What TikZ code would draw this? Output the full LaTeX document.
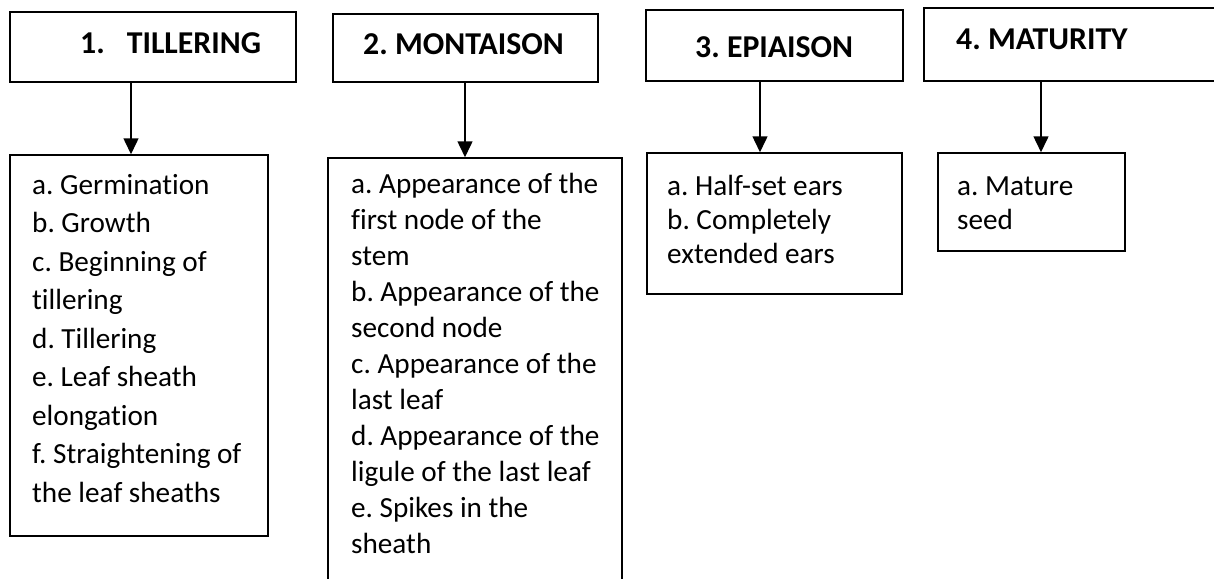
\documentclass[tikz,border=0pt]{standalone}
\usepackage{fontspec}
\setmainfont{Carlito}[Ligatures={NoCommon}]
\usetikzlibrary{arrows.meta}
\begin{document}
\frenchspacing
\begin{tikzpicture}[x=1pt,y=-1pt,
  box/.style={draw, line width=1.5pt, inner sep=0pt, rectangle},
  title/.style={font=\bfseries\fontsize{31.8}{38}\selectfont, anchor=base west, inner sep=0pt},
  body/.style={font=\fontsize{29.2}{#1}\selectfont, anchor=base west, inner sep=0pt, align=left},
  arr/.style={-{Triangle[length=16pt,width=15pt]}, line width=1.5pt}]
\useasboundingbox (0,0) rectangle (1214,578);
% top boxes
\node[box, minimum width=286pt, minimum height=70pt] (t1) at (153,47) {};
\node[box, minimum width=265pt, minimum height=68pt] (t2) at (465.5,48) {};
\node[box, minimum width=257pt, minimum height=71pt] (t3) at (774.5,45.5) {};
\node[box, minimum width=292pt, minimum height=73pt] (t4) at (1070,44.5) {};
% bottom boxes
\node[box, minimum width=258pt, minimum height=381pt] (b1) at (139,345.5) {};
\node[box, minimum width=294pt, minimum height=424pt] (b2) at (475,370) {};
\node[box, minimum width=255pt, minimum height=141pt] (b3) at (774.5,223.5) {};
\node[box, minimum width=187pt, minimum height=98pt] (b4) at (1031.5,202) {};
% titles
\node[title] (h1) at (80,54) {1.\hspace{22pt}TILLERING};
\node[title] (h2) at (363,55) {2. MONTAISON};
\node[title] (h3) at (695,57) {3. EPIAISON};
\node[title] (h4) at (956,50) {4. MATURITY};
% body texts (base anchor = baseline of the last line)
\node[body=38.5] (x1) at (32,502) {a. Germination\\b. Growth\\c. Beginning of\\tillering\\d. Tillering\\e. Leaf sheath\\elongation\\f. Straightening of\\the leaf sheaths};
\node[body=36] (x2) at (351,553) {a. Appearance of the\\first node of the\\stem\\b. Appearance of the\\second node\\c. Appearance of the\\last leaf\\d. Appearance of the\\ligule of the last leaf\\e. Spikes in the\\sheath};
\node[body=34] (x3) at (667,263) {a. Half-set ears\\b. Completely\\extended ears};
\node[body=34] (x4) at (957,229) {a. Mature\\seed};
% arrows
\coordinate (a1) at (131,0);
\coordinate (a2) at (465,0);
\coordinate (a3) at (760,0);
\coordinate (a4) at (1041,0);
\draw[arr] (t1.south -| a1) -- (b1.north -| a1);
\draw[arr] (t2.south -| a2) -- (b2.north -| a2);
\draw[arr] (t3.south -| a3) -- (b3.north -| a3);
\draw[arr] (t4.south -| a4) -- (b4.north -| a4);
\end{tikzpicture}
\end{document}
